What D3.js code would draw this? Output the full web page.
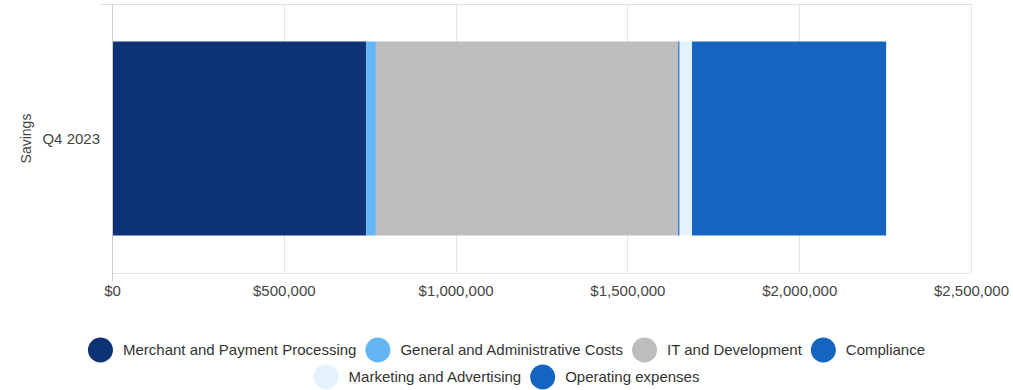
<!DOCTYPE html>
<html>
<head>
<meta charset="utf-8">
<script src="https://cdnjs.cloudflare.com/ajax/libs/d3/7.8.5/d3.min.js"></script>
<style>
  html, body { margin: 0; padding: 0; background: #fff; }
  svg { display: block; font-family: "Liberation Sans", Arial, sans-serif; }
</style>
</head>
<body>
<svg id="chart" width="1013" height="390"></svg>
<script>
// Savings breakdown for a single quarter, stacked horizontally
const categories = ["Q4 2023"];
const seriesNames = [
  "Merchant and Payment Processing",
  "General and Administrative Costs",
  "IT and Development",
  "Compliance",
  "Marketing and Advertising",
  "Operating expenses"
];
const seriesColors = ["#0d3276", "#64b5f6", "#bdbdbd", "#1565c0", "#e3f2fd", "#1565c0"];
const merchantValues = [740000];
const generalValues = [28000];
const itValues = [880000];
const complianceValues = [4000];
const marketingValues = [36000];
const operatingValues = [565000];
const tickValues = [0, 500000, 1000000, 1500000, 2000000, 2500000];
const axisTitle = "Savings";

const seriesValues = [merchantValues, generalValues, itValues, complianceValues, marketingValues, operatingValues];

const rows = categories.map((c, i) => {
  const r = { category: c };
  seriesNames.forEach((s, j) => { r[s] = seriesValues[j][i]; });
  return r;
});

const svg = d3.select("#chart");
const plot = { left: 112, right: 971, top: 4, bottom: 273 };

const x = d3.scaleLinear().domain([0, 2500000]).range([plot.left, plot.right]);
const y = d3.scaleBand().domain(categories).range([plot.top, plot.bottom]).padding(0.162);

const fmt = v => "$" + d3.format(",")(v);

// vertical gridlines
svg.append("g")
  .selectAll("line")
  .data(tickValues)
  .join("line")
  .attr("x1", d => Math.round(x(d)) + 0.5)
  .attr("x2", d => Math.round(x(d)) + 0.5)
  .attr("y1", plot.top)
  .attr("y2", plot.bottom)
  .attr("stroke", "#e6e6e6");

// top and bottom frame lines
svg.append("line")
  .attr("x1", plot.left - 12).attr("x2", plot.right)
  .attr("y1", plot.top + 0.5).attr("y2", plot.top + 0.5)
  .attr("stroke", "#e0e0e0");
svg.append("line")
  .attr("x1", plot.left).attr("x2", plot.right)
  .attr("y1", plot.bottom + 0.5).attr("y2", plot.bottom + 0.5)
  .attr("stroke", "#e6e6e6");

// stacked bars
const stack = d3.stack().keys(seriesNames)(rows);
svg.append("g")
  .selectAll("g")
  .data(stack)
  .join("g")
  .attr("fill", (d, i) => seriesColors[i])
  .selectAll("rect")
  .data(d => d)
  .join("rect")
  .attr("x", d => x(d[0]))
  .attr("width", d => x(d[1]) - x(d[0]))
  .attr("y", d => y(d.data.category))
  .attr("height", y.bandwidth());

// left axis line
svg.append("line")
  .attr("x1", plot.left + 0.5).attr("x2", plot.left + 0.5)
  .attr("y1", plot.top).attr("y2", plot.bottom + 8)
  .attr("stroke", "#cccccc");

// x axis labels
const xAxis = d3.axisBottom(x).tickValues(tickValues).tickFormat(fmt).tickSize(0).tickPadding(12);
const gx = svg.append("g").attr("transform", `translate(0,${plot.bottom})`).call(xAxis);
gx.select(".domain").remove();
gx.selectAll("text").attr("font-size", 15).attr("fill", "#444").attr("font-family", "Liberation Sans, Arial, sans-serif");

// category labels
svg.append("g")
  .selectAll("text")
  .data(categories)
  .join("text")
  .attr("x", 100)
  .attr("y", d => y(d) + y.bandwidth() / 2)
  .attr("dy", "0.35em")
  .attr("text-anchor", "end")
  .attr("font-size", 15)
  .attr("fill", "#444")
  .text(d => d);

// axis title
svg.append("text")
  .attr("transform", `translate(31,${(plot.top + plot.bottom) / 2}) rotate(-90)`)
  .attr("text-anchor", "middle")
  .attr("font-size", 14)
  .attr("fill", "#444")
  .text(axisTitle);

// legend, wrapped into centred rows
const legend = svg.append("g");
const r = 12.5, gapText = 10, gapItem = 9, maxRow = 900;
const items = seriesNames.map((name, i) => {
  const g = legend.append("g");
  g.append("circle").attr("r", r).attr("cx", r).attr("cy", 0).attr("fill", seriesColors[i]);
  const t = g.append("text")
    .attr("x", 2 * r + gapText).attr("dy", "0.35em")
    .attr("font-size", 15).attr("fill", "#333").text(name);
  const w = 2 * r + gapText + t.node().getComputedTextLength();
  return { g, w };
});
const legendRows = [];
let cur = [], curW = 0;
items.forEach(it => {
  const add = (cur.length ? gapItem : 0) + it.w;
  if (cur.length && curW + add > maxRow) { legendRows.push({ items: cur, w: curW }); cur = []; curW = 0; }
  curW += (cur.length ? gapItem : 0) + it.w;
  cur.push(it);
});
if (cur.length) legendRows.push({ items: cur, w: curW });
const rowY = [350, 377];
legendRows.forEach((row, ri) => {
  let xPos = 506.5 - row.w / 2;
  row.items.forEach(it => {
    it.g.attr("transform", `translate(${xPos},${rowY[ri] ?? (350 + 27 * ri)})`);
    xPos += it.w + gapItem;
  });
});
</script>
</body>
</html>
